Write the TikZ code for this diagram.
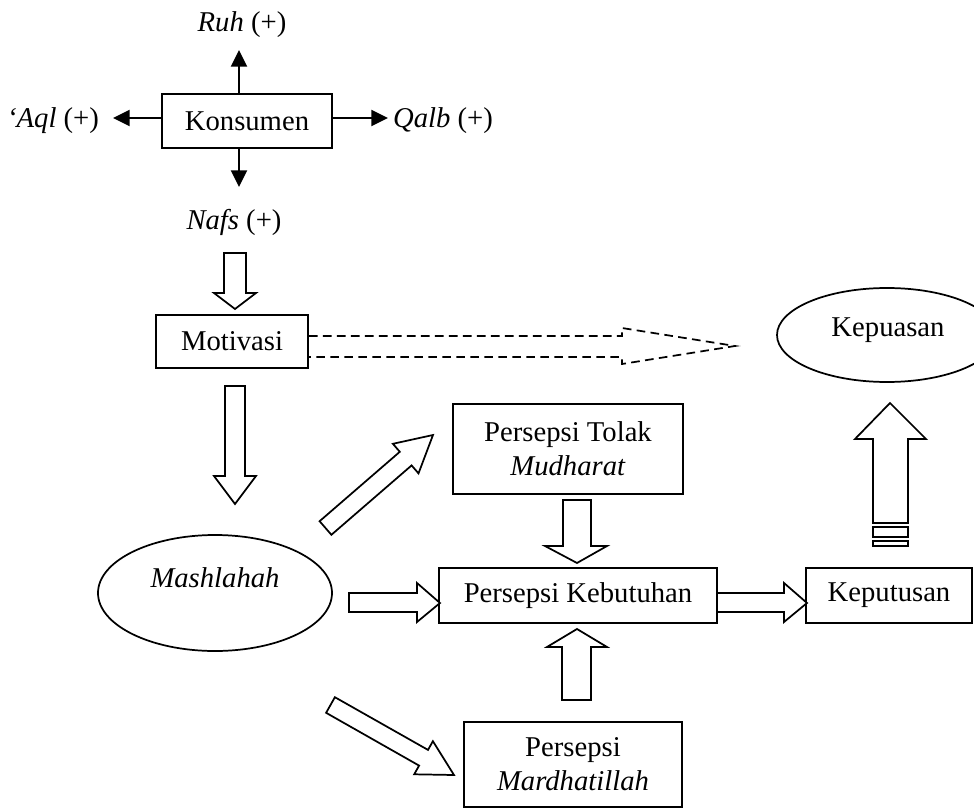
\documentclass[tikz,border=0pt]{standalone}
\usepackage{fontspec}
\setmainfont{Liberation Serif}
\usetikzlibrary{arrows.meta,shapes.geometric}
\begin{document}
\begin{tikzpicture}[x=0.75pt,y=-0.75pt,
  every node/.style={font=\fontsize{21.5}{25.5}\selectfont},
  box/.style={draw, rectangle, line width=1.3pt, inner sep=0pt, align=center},
  oval/.style={draw, ellipse, line width=1.3pt, inner sep=0pt},
  lbl/.style={inner sep=0pt},
  blk/.style={draw, line width=1.3pt, line join=miter, fill=white},
  dblk/.style={draw, line width=1.3pt, dash pattern=on 6.5pt off 4pt},
  tarrow/.style={line width=1.5pt, -{Triangle[length=12.5pt,width=12pt]}}]
\useasboundingbox (0,0) rectangle (974,809);
\path[clip] (0,0) rectangle (974,809);

% top cluster
\node[box, minimum width=127.5pt, minimum height=40.5pt] (kons) at (247,121) {Konsumen};
\node[lbl] (ruh) at (242,25) {\textit{Ruh} (+)};
\node[lbl] (aql) at (53,121) {\textit{‘Aql} (+)};
\node[lbl] (qalb) at (443,121) {\textit{Qalb} (+)};
\node[lbl] (nafs) at (234,222) {\textit{Nafs} (+)};
\coordinate (ruhtip) at (239,50);
\coordinate (aqltip) at (113,118);
\coordinate (qalbtip) at (388,118);
\coordinate (nafstip) at (239,187);
\draw[tarrow] (kons.north -| ruhtip) -- (ruhtip);
\draw[tarrow] (kons.west |- aqltip) -- (aqltip);
\draw[tarrow] (kons.east |- qalbtip) -- (qalbtip);
\draw[tarrow] (kons.south -| nafstip) -- (nafstip);

% main boxes
\node[box, minimum width=114pt, minimum height=39.75pt] (moti) at (232,341.5) {Motivasi};
\node[box, minimum width=172.5pt, minimum height=67.5pt] (tolak) at (568,449) {Persepsi Tolak\\\textit{Mudharat}};
\node[box, minimum width=208.5pt, minimum height=41.25pt] (kebu) at (578,595.5) {Persepsi Kebutuhan};
\node[box, minimum width=124.5pt, minimum height=41.25pt] (kepu) at (889,595.5) {Keputusan};
\node[box, minimum width=163.5pt, minimum height=63.75pt] (mard) at (573,764.5) {Persepsi\\\textit{Mardhatillah}};
\node[oval, minimum width=175.5pt, minimum height=87pt] (mash) at (215,593) {};
\node[lbl] (mashtxt) at (215,578) {\textit{Mashlahah}};
\node[oval, minimum width=165pt, minimum height=70.5pt] (kepuas) at (887,335) {};
\node[lbl] (kepuastxt) at (888,330) {Kepuasan};

% block arrows
\draw[blk] (224,253) -- (246,253) -- (246,293) -- (256,293) -- (235,309) -- (214,293) -- (224,293) -- cycle;
\draw[blk] (225,386) -- (245,386) -- (245,476) -- (256,476) -- (235,504) -- (214,476) -- (225,476) -- cycle;
\draw[blk] (563,500) -- (591,500) -- (591,546) -- (607,546) -- (577,563) -- (545,546) -- (563,546) -- cycle;
\draw[blk] (562,700) -- (591,700) -- (591,647) -- (607,647) -- (577,629) -- (547,647) -- (562,647) -- cycle;
\draw[blk] (349,593) -- (417,593) -- (417,583) -- (440,603) -- (417,622) -- (417,612) -- (349,612) -- cycle;
\draw[blk] (717,593) -- (784,593) -- (784,583) -- (807,603) -- (784,622) -- (784,612) -- (717,612) -- cycle;
\draw[blk] (873,523) -- (873,439) -- (855,439) -- (890,403) -- (926,439) -- (908,439) -- (908,523) -- cycle;
\draw[blk] (873,527) rectangle (908,537);
\draw[blk] (873,541) rectangle (908,546);
\draw[blk] (319.6,521.2) -- (399.8,451.8) -- (392.9,443.8) -- (433,435) -- (418.5,473.4) -- (411.6,465.4) -- (331.4,534.8) -- cycle;
\draw[blk] (334.9,697.2) -- (428.0,749.9) -- (432.9,741.2) -- (454,775) -- (414.2,774.3) -- (419.1,765.6) -- (326.1,712.8) -- cycle;
\draw[dblk] (moti.east |- 0,336) -- (622,336) -- (622,328) -- (735,346) -- (622,364) -- (622,357) -- (moti.east |- 0,357);
\end{tikzpicture}
\end{document}
